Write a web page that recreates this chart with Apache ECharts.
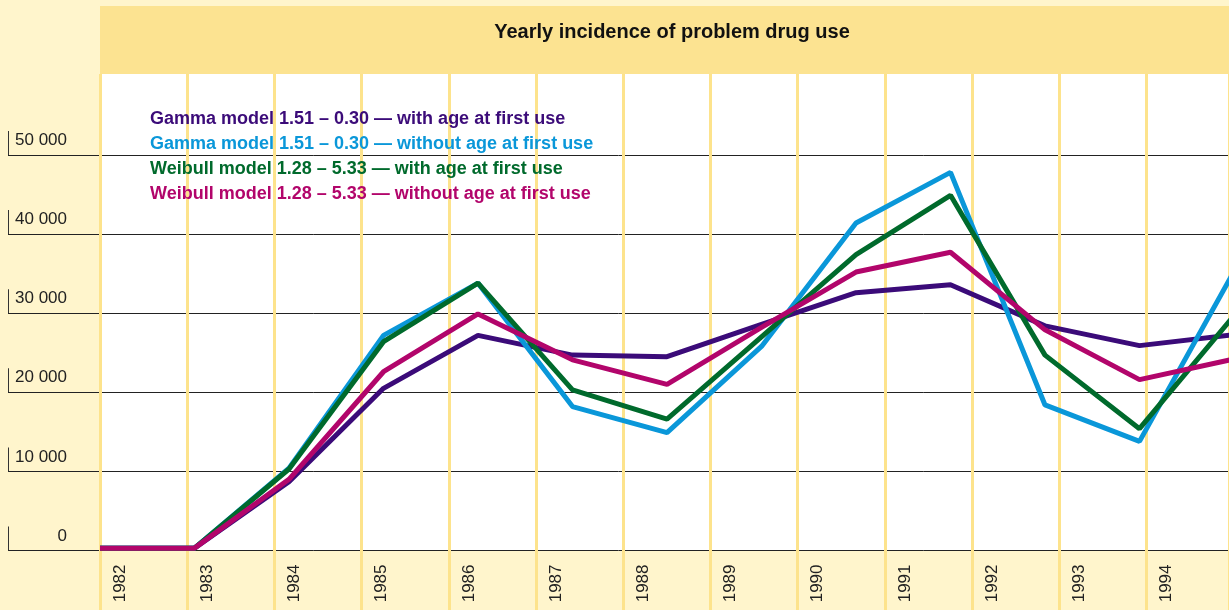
<!DOCTYPE html>
<html>
<head>
<meta charset="utf-8">
<title>Yearly incidence of problem drug use</title>
<script src="https://cdn.jsdelivr.net/npm/echarts@6/dist/echarts.min.js"></script>
<style>
  html, body { margin: 0; padding: 0; background: #fff5cc; }
  #chart { width: 1229px; height: 610px; }
</style>
</head>
<body>
<div id="chart"></div>
<script>
// data
var years = ['1982', '1983', '1984', '1985', '1986', '1987', '1988', '1989', '1990', '1991', '1992', '1993', '1994'];
var yTicks = [0, 10000, 20000, 30000, 40000, 50000];

var gammaWith = [300, 300, 8700, 20500, 27200, 24700, 24500, 28600, 32600, 33600, 28400, 25900, 27300];
var gammaWithout = [300, 300, 10400, 27200, 33800, 18200, 14900, 25800, 41400, 47800, 18400, 13800, 35300];
var weibullWith = [300, 300, 10300, 26400, 33800, 20300, 16600, 27000, 37400, 44900, 24700, 15400, 29700];
var weibullWithout = [300, 300, 9000, 22600, 29900, 24100, 21000, 28200, 35200, 37700, 27900, 21600, 24200];

var seriesNames = [
  'Gamma model 1.51 – 0.30 — with age at first use',
  'Gamma model 1.51 – 0.30 — without age at first use',
  'Weibull model 1.28 – 5.33 — with age at first use',
  'Weibull model 1.28 – 5.33 — without age at first use'
];
var seriesColors = ['#3b0b79', '#0a97d9', '#006a2c', '#b2056b'];
var seriesData = [gammaWith, gammaWithout, weibullWith, weibullWithout];

// no condensed face installed, so plain Liberation Sans at a smaller size
var FONT = '"Liberation Sans", Arial, sans-serif';
var colW = 1129 / 87.2;   // width of plot in year columns
var ptW = 1129 / 94.5;    // width of plot in data steps
var lblShift = 0.23;      // year text sits a bit right of its column line

function fmtNum(v) {
  return v === 0 ? '0' : String(v / 1000) + ' 000';
}

var chart = echarts.init(document.getElementById('chart'));

chart.setOption({
  animation: false,
  backgroundColor: '#fff5cc',
  title: {
    text: 'Yearly incidence of problem drug use',
    left: 667,
    textAlign: 'center',
    top: 17,
    textStyle: { fontFamily: FONT, fontSize: 20, fontWeight: 'bold', color: '#111' }
  },
  graphic: [
    { type: 'rect', z: -10, shape: { x: 100, y: 6, width: 1129, height: 68 }, style: { fill: '#fce391' } },
    { type: 'rect', z: -10, shape: { x: 100, y: 74, width: 1129, height: 477 }, style: { fill: '#ffffff' } }
  ],
  legend: {
    orient: 'vertical',
    left: 140,
    top: 102,
    itemGap: 0,
    itemWidth: 0,
    itemHeight: 25,
    icon: 'none',
    data: seriesNames.map(function (n, i) {
      return { name: n, textStyle: { color: seriesColors[i] } };
    }),
    textStyle: { fontFamily: FONT, fontSize: 18, fontWeight: 'bold', lineHeight: 25 }
  },
  grid: [
    { left: 8, right: 0, top: 155, bottom: 59.5 },
    { left: 100, right: 0, top: 74, bottom: 0 },
    { left: 100, right: 0, top: 155, bottom: 59.5 }
  ],
  xAxis: [
    { gridIndex: 0, type: 'value', show: false, min: 0, max: 1 },
    {
      gridIndex: 1, type: 'value', min: 0, max: colW, interval: 1,
      axisLine: { show: false }, axisTick: { show: false }, axisLabel: { show: false },
      splitLine: { show: true, lineStyle: { color: '#fde38c', width: 3 } }
    },
    { gridIndex: 2, type: 'value', show: false, min: 0, max: ptW },
    {
      gridIndex: 2, type: 'value', position: 'bottom', min: 0, max: colW,
      axisLine: { show: false }, axisTick: { show: false }, splitLine: { show: false },
      axisLabel: {
        customValues: years.map(function (y, i) { return i + lblShift; }),
        rotate: 90,
        margin: 14,
        fontFamily: FONT,
        fontSize: 17,
        color: '#222',
        formatter: function (v) { return years[Math.round(v - lblShift)]; }
      }
    }
  ],
  yAxis: [
    {
      gridIndex: 0, type: 'value', min: 0, max: 50000, interval: 10000,
      axisLine: { show: false }, axisTick: { show: false },
      splitLine: { show: true, lineStyle: { color: '#222', width: 1 } },
      axisLabel: {
        inside: true,
        margin: 0,
        align: 'left',
        verticalAlign: 'bottom',
        formatter: function (v) { return '{bar|}{t|' + fmtNum(v) + '}'; },
        rich: {
          bar: { width: 1, height: 24, backgroundColor: '#333' },
          t: { width: 58, align: 'right', fontFamily: FONT, fontSize: 17, color: '#222', lineHeight: 20, padding: [0, 0, 5, 0] }
        }
      }
    },
    { gridIndex: 1, type: 'value', show: false, min: 0, max: 1 },
    { gridIndex: 2, type: 'value', show: false, min: 0, max: 50000 }
  ],
  series: seriesData.map(function (arr, s) {
    return {
      name: seriesNames[s],
      type: 'line',
      xAxisIndex: 2,
      yAxisIndex: 2,
      symbol: 'none',
      color: seriesColors[s],
      lineStyle: { width: 5, color: seriesColors[s] },
      data: arr.map(function (v, i) { return [i, v]; })
    };
  })
});
</script>
</body>
</html>
